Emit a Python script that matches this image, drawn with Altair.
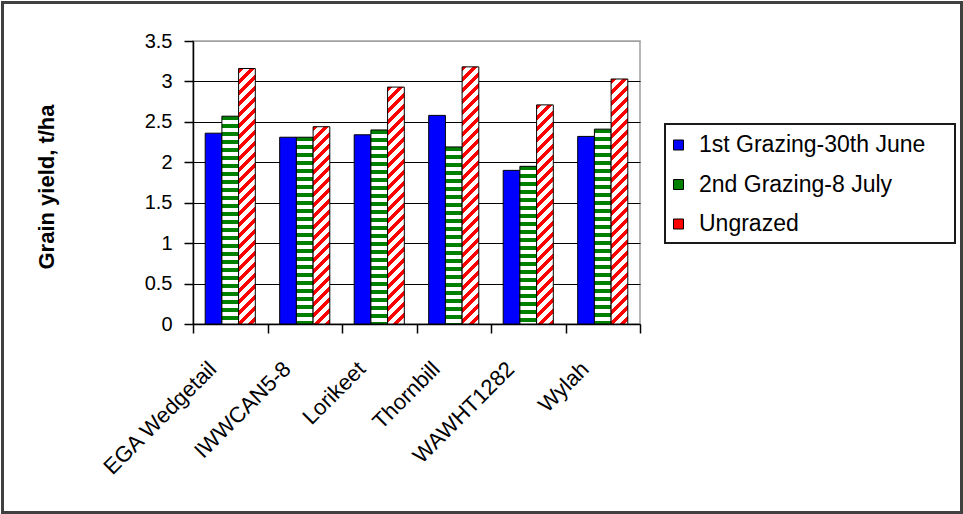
import altair as alt
import pandas as pd

# ---------------- data ----------------
varieties = ["EGA Wedgetail", "IWWCAN5-8", "Lorikeet", "Thornbill", "WAWHT1282", "Wylah"]
series = ["1st Grazing-30th June", "2nd Grazing-8 July", "Ungrazed"]
first_grazing = [2.36, 2.31, 2.34, 2.58, 1.90, 2.32]
second_grazing = [2.57, 2.31, 2.40, 2.19, 1.95, 2.41]
ungrazed = [3.16, 2.44, 2.93, 3.18, 2.71, 3.03]
y_ticks = [0, 0.5, 1, 1.5, 2, 2.5, 3, 3.5]
y_max = 3.5

rows = []
for i, v in enumerate(varieties):
    for s, vals in zip(series, [first_grazing, second_grazing, ungrazed]):
        rows.append({"variety": v, "series": s, "value": vals[i]})
df = pd.DataFrame(rows)

# ---------------- style / layout ----------------
FONT = "Liberation Sans"
BLUE, GREEN, RED = "#0000ff", "#008000", "#ff0000"
W, H = 447, 283
PAD = {"left": 193, "top": 41, "right": 963 - 193 - W, "bottom": 514 - 41 - H}
OFFSET_PAD = 0.73
step = W / len(varieties)
bar_w = step / (len(series) + 2 * OFFSET_PAD)


def hstripes(h, color, period=8.0, frac=0.5):
    stops = []
    k = 0
    while k * period < h:
        a = k * period / h
        b = min((k * period + period * frac) / h, 1)
        c = min((k + 1) * period / h, 1)
        stops += [{"offset": a, "color": color}, {"offset": b, "color": color},
                  {"offset": b, "color": "white"}, {"offset": c, "color": "white"}]
        k += 1
    return {"gradient": "linear", "x1": 0, "y1": 0, "x2": 0.000001, "y2": 1, "stops": stops}


def dstripes(w, h, color, period=11.0, frac=0.45):
    L = w + h
    d = w * w + h * h
    stops = []
    k = 0
    while k * period < L:
        a = k * period / L
        b = min((k * period + period * frac) / L, 1)
        c = min((k + 1) * period / L, 1)
        stops += [{"offset": a, "color": color}, {"offset": b, "color": color},
                  {"offset": b, "color": "white"}, {"offset": c, "color": "white"}]
        k += 1
    return {"gradient": "linear", "x1": 0, "y1": 0, "x2": L * w / d, "y2": L * h / d, "stops": stops}


conditions = []
for i, v in enumerate(varieties):
    h2 = second_grazing[i] * H / y_max
    h3 = ungrazed[i] * H / y_max
    conditions.append({"test": f"datum.variety === '{v}' && datum.series === '{series[1]}'",
                       "value": hstripes(h2, GREEN)})
    conditions.append({"test": f"datum.variety === '{v}' && datum.series === '{series[2]}'",
                       "value": dstripes(bar_w, h3, RED)})

bars = alt.Chart(df).mark_bar(stroke="black", strokeWidth=1).encode(
    x=alt.X("variety:N", sort=varieties,
            scale=alt.Scale(paddingInner=0, paddingOuter=0),
            axis=alt.Axis(title=None, labelAngle=-45, labelAlign="right", labelBaseline="top",
                          labelOffset=-25, labelPadding=25, tickBand="extent", tickSize=9,
                          labelFontSize=22, labelLimit=400, labelColor="black",
                          domainColor="black", domainWidth=1.5, tickColor="black", tickWidth=1.5)),
    xOffset=alt.XOffset("series:N", sort=series,
                        scale=alt.Scale(paddingInner=0, paddingOuter=OFFSET_PAD)),
    y=alt.Y("value:Q", scale=alt.Scale(domain=[0, y_max], nice=False),
            axis=alt.Axis(values=y_ticks, format="~g", title="Grain yield, t/ha",
                          titleFontSize=22, titleFontWeight="bold", titleColor="black",
                          titleAngle=-90, titleAlign="center", titleBaseline="middle",
                          titleX=-147, titleY=H / 2 + 4,
                          tickSize=9, labelPadding=12, labelFontSize=20, labelColor="black",
                          grid=True, gridWidth=1.2,
                          gridColor=alt.condition("datum.value >= 3.5", alt.value("#a0a0a0"), alt.value("black")),
                          domainColor="black", domainWidth=1.5, tickColor="black", tickWidth=1.5)),
    fill=alt.Fill("series:N", sort=series,
                  scale=alt.Scale(domain=series, range=[BLUE, GREEN, RED]),
                  legend=alt.Legend(title=None, orient="none", legendX=474, legendY=92.5, padding=0,
                                    symbolType="square", symbolSize=100, symbolStrokeColor="black",
                                    symbolStrokeWidth=1, labelFontSize=23, labelColor="black",
                                    rowPadding=15.5, labelOffset=9, labelLimit=400),
                  condition=conditions),
)

one = alt.Data(values=[{"k": 0}])
frame = alt.Chart(one).mark_rect(fill="white", fillOpacity=0, stroke="#404040", strokeWidth=3).encode(
    x=alt.value(-190.5), x2=alt.value(768.5), y=alt.value(-38.5), y2=alt.value(471.5))
legend_box = alt.Chart(one).mark_rect(fill="white", stroke="#1a1a1a", strokeWidth=2).encode(
    x=alt.value(472), x2=alt.value(762), y=alt.value(83), y2=alt.value(202))

chart = alt.layer(frame, legend_box, bars).properties(
    width=W, height=H,
    autosize=alt.AutoSizeParams(type="none"),
    padding=PAD,
    background="white",
).configure(font=FONT).configure_view(stroke="#a0a0a0", strokeWidth=1.5)

chart.save("out.html", embed_options={"renderer": "svg", "actions": False})
